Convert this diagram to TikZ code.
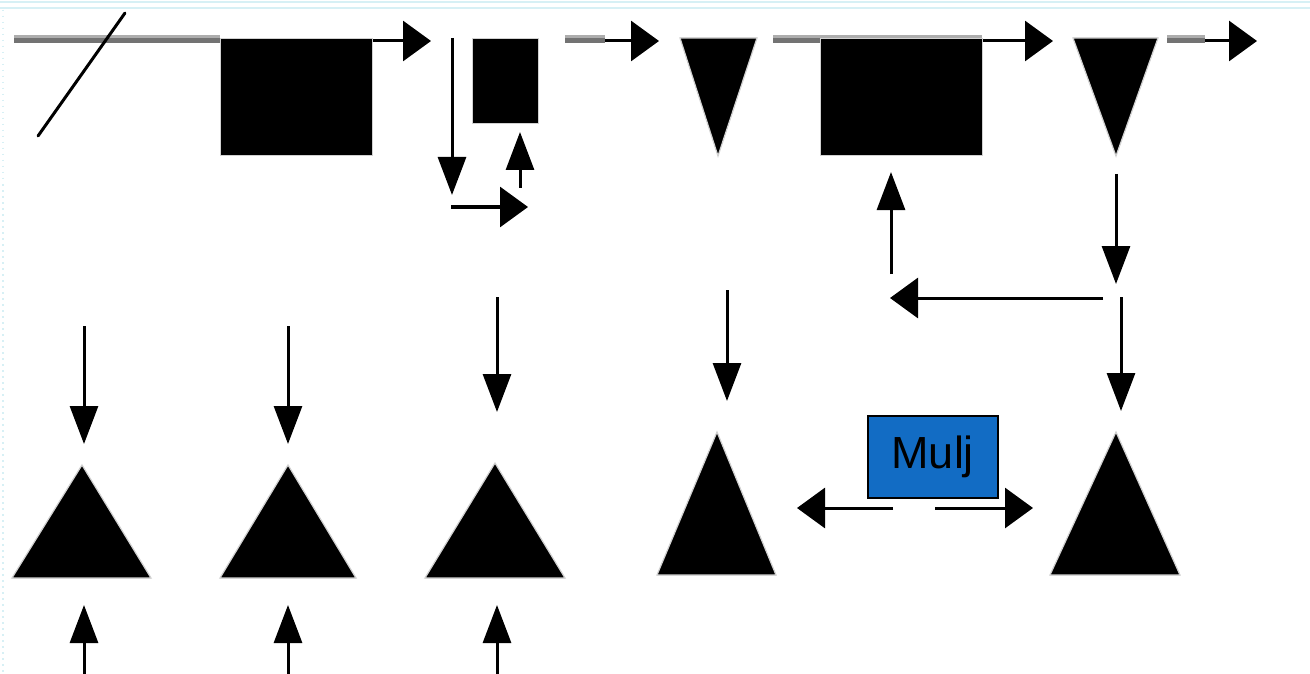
\documentclass[tikz,border=0pt]{standalone}
\usepackage{fontspec}
\setmainfont{Liberation Sans}
\usetikzlibrary{arrows.meta}
\definecolor{muljblue}{RGB}{18,108,196}
\definecolor{framecyan}{RGB}{215,240,245}
\tikzset{
  wire/.style={line width=3pt},
  harrow/.style={wire,-{Triangle[length=28pt,width=40pt]}},
  varrow/.style={wire,-{Triangle[length=38pt,width=28pt]}},
  block/.style={fill=black,draw=black!18,line width=1.2pt},
  lightband/.style={fill=black!32},
  darkband/.style={fill=black!55},
  labelbox/.style={fill=muljblue,draw=black,line width=1.5pt,
    minimum width=130pt,minimum height=82pt,inner sep=0pt,
    font=\fontsize{45}{50}\selectfont},
}
\newcommand{\greyband}[2]{%
  \fill[lightband] (#1,35) rectangle (#2,38.5);
  \fill[darkband] (#1,38.5) rectangle (#2,43);}
\begin{document}
\begin{tikzpicture}[x=1pt,y=-1pt]
\useasboundingbox (0,0) rectangle (1310,674);
\fill[white] (0,0) rectangle (1310,674);
% faint page frame
\draw[framecyan,line width=1.5pt] (0,2) -- (1310,2);
\draw[framecyan,line width=1.5pt] (0,8) -- (1310,8);
\draw[framecyan,line width=2pt,dash pattern=on 1.5pt off 4.5pt] (3,10) -- (3,674);

% ---------- top row ----------
\coordinate (a1s) at (14,41);   \coordinate (a1e) at (431,41);
\draw[harrow] (a1s) -- (a1e);
\greyband{14}{220}
\draw[line width=3pt,line cap=round] (38,136) -- (125,13);
\node[block,minimum width=152pt,minimum height=117pt,inner sep=0pt,anchor=north west] (sq1) at (220,38) {};

\coordinate (d1s) at (452,38);  \coordinate (d1e) at (452,195);
\draw[varrow] (d1s) -- (d1e);
\node[block,minimum width=66pt,minimum height=85pt,inner sep=0pt,anchor=north west] (sq2) at (472,38) {};
\coordinate (h1s) at (451,207); \coordinate (h1e) at (528,207);
\draw[harrow] (h1s) -- (h1e);
\coordinate (u1s) at (520,188); \coordinate (u1e) at (520,132);
\draw[varrow] (u1s) -- (u1e);

\coordinate (a2s) at (565,41);  \coordinate (a2e) at (659,41);
\draw[harrow] (a2s) -- (a2e);
\greyband{565}{605}

\fill[black,draw=black!18,line width=1.2pt] (680,38) -- (757,38) -- (718,156) -- cycle;

\coordinate (a3s) at (773,41);  \coordinate (a3e) at (1053,41);
\draw[harrow] (a3s) -- (a3e);
\greyband{773}{982}
\node[block,minimum width=162pt,minimum height=117pt,inner sep=0pt,anchor=north west] (sq3) at (820,38) {};

\fill[black,draw=black!18,line width=1.2pt] (1073,38) -- (1158,38) -- (1116,156) -- cycle;

\coordinate (a4s) at (1167,41); \coordinate (a4e) at (1257,41);
\draw[harrow] (a4s) -- (a4e);
\greyband{1167}{1205}

% ---------- feedback loop ----------
\coordinate (d2s) at (1116,174); \coordinate (d2e) at (1116,284);
\draw[varrow] (d2s) -- (d2e);
\coordinate (l1s) at (1103,298); \coordinate (l1e) at (890,298);
\draw[harrow] (l1s) -- (l1e);
\coordinate (u2s) at (891,274); \coordinate (u2e) at (891,172);
\draw[varrow] (u2s) -- (u2e);

% ---------- bottom row ----------
\foreach \x/\xl/\xr/\ya in {82/12/151/465, 288/220/356/465, 495/425/565/463}{
  \fill[black,draw=black!18,line width=1.2pt] (\xl,578) -- (\xr,578) -- (\x,\ya) -- cycle;
}
\fill[black,draw=black!18,line width=1.2pt] (657,575) -- (776,575) -- (717,432) -- cycle;
\fill[black,draw=black!18,line width=1.2pt] (1050,575) -- (1180,575) -- (1116,432) -- cycle;

\coordinate (b1s) at (84,326);   \coordinate (b1e) at (84,444);
\coordinate (b2s) at (288,326);  \coordinate (b2e) at (288,444);
\coordinate (b3s) at (497,297);  \coordinate (b3e) at (497,412);
\coordinate (b4s) at (727,290);  \coordinate (b4e) at (727,401);
\coordinate (b5s) at (1121,297); \coordinate (b5e) at (1121,411);
\foreach \n in {1,...,5}{\draw[varrow] (b\n s) -- (b\n e);}

\coordinate (c1s) at (84,674);   \coordinate (c1e) at (84,605);
\coordinate (c2s) at (288,674);  \coordinate (c2e) at (288,605);
\coordinate (c3s) at (497,674);  \coordinate (c3e) at (497,605);
\foreach \n in {1,2,3}{\draw[varrow] (c\n s) -- (c\n e);}

% ---------- label ----------
\node[labelbox,anchor=north west] (mulj) at (867,415) {Mulj};
\coordinate (ml) at (893,508); \coordinate (mlt) at (797,508);
\coordinate (mr) at (935,508); \coordinate (mrt) at (1033,508);
\draw[harrow] (ml) -- (mlt);
\draw[harrow] (mr) -- (mrt);
\end{tikzpicture}
\end{document}
